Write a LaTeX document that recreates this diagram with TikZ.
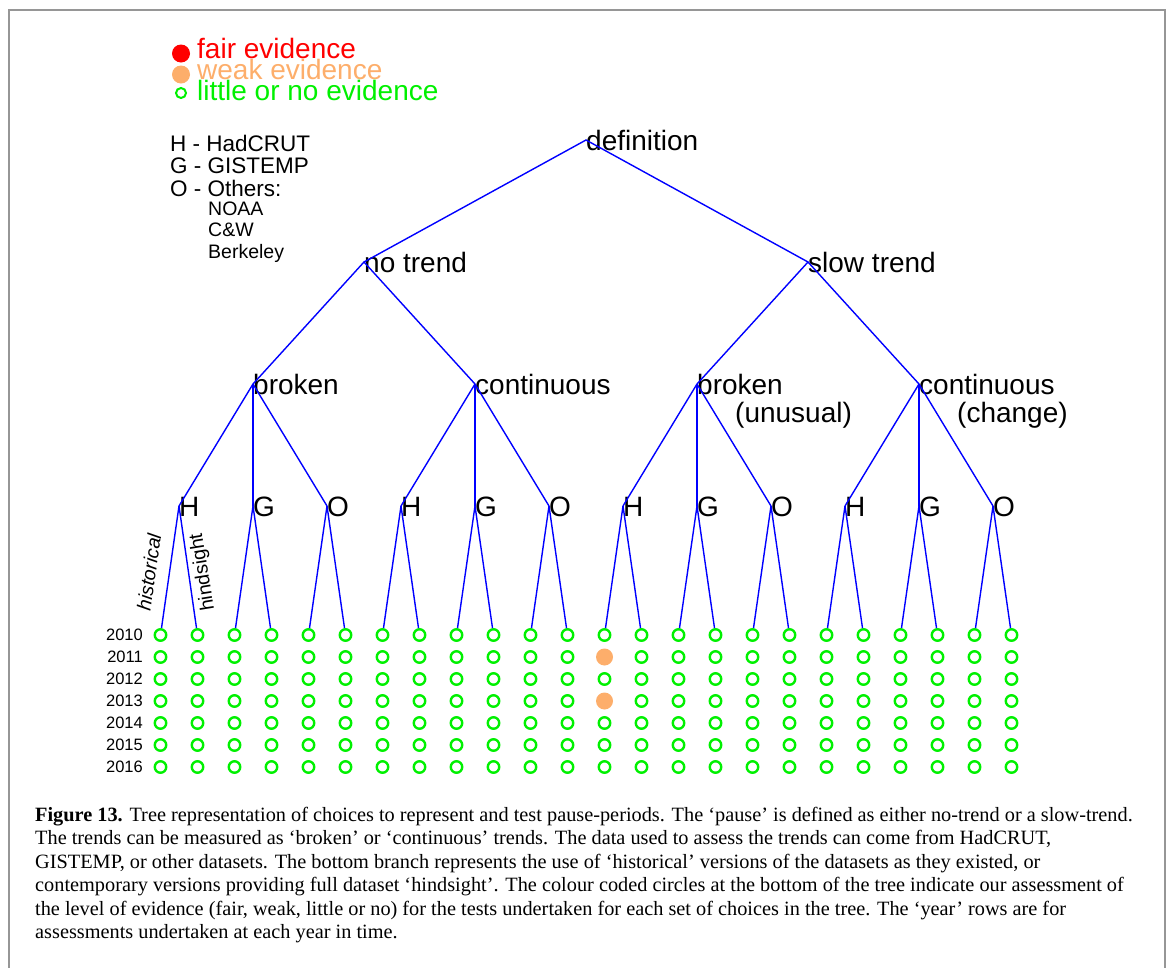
\documentclass[tikz,border=0pt]{standalone}
\usepackage{fontspec}
\setmainfont{Liberation Sans}
\newfontfamily\capfont{Liberation Serif}
\definecolor{treeblue}{RGB}{0,0,255}
\definecolor{evgreen}{RGB}{0,240,0}
\definecolor{evorange}{RGB}{253,174,107}
\definecolor{evred}{RGB}{255,0,0}
\definecolor{framegray}{RGB}{150,150,150}
\begin{document}
\begin{tikzpicture}[x=1pt,y=-1pt,
  branch/.style={draw=treeblue, line width=1.4pt},
  lab/.style={inner sep=0pt, anchor=base west, font=\fontsize{28}{28}\selectfont},
  keylab/.style={inner sep=0pt, anchor=base west, font=\fontsize{22.5}{22.5}\selectfont},
  sublab/.style={inner sep=0pt, anchor=base west, font=\fontsize{19.5}{19.5}\selectfont},
  yearlab/.style={inner sep=0pt, anchor=east, font=\fontsize{16.5}{16.5}\selectfont},
  verlab/.style={inner sep=0pt, font=\fontsize{19.5}{19.5}\selectfont},
  leafc/.style={circle, draw=evgreen, line width=2.4pt, minimum size=11.5pt, inner sep=0pt},
  weakc/.style={circle, fill=evorange, minimum size=17pt, inner sep=0pt},
  caplab/.style={inner sep=0pt, anchor=base west, font=\capfont\fontsize{20.3}{23.5}\selectfont}]
\useasboundingbox (0,0) rectangle (1169,967);
% frame
\draw[framegray, line width=2pt] (9,970) -- (9,10) -- (1165,10) -- (1165,970);

% legend
\node[circle, fill=evred, minimum size=18pt, inner sep=0pt] (lg-fair) at (181,53.5) {};
\node[circle, fill=evorange, minimum size=18pt, inner sep=0pt] (lg-weak) at (181,74.5) {};
\node[circle, draw=evgreen, line width=2pt, minimum size=10pt, inner sep=0pt] (lg-none) at (181,93) {};
\node[lab, text=evred] (t-fair) at (197,58) {fair evidence};
\node[lab, text=evorange] (t-weak) at (197,79) {weak evidence};
\node[lab, text=evgreen] (t-none) at (197,100) {little or no evidence};

\node[keylab] (k-h) at (170,151) {H - HadCRUT};
\node[keylab] (k-g) at (170,173.5) {G - GISTEMP};
\node[keylab] (k-o) at (170,196) {O - Others:};
\node[sublab] (k-noaa) at (208,215) {NOAA};
\node[sublab] (k-cw) at (208,236.5) {C\&W};
\node[sublab] (k-berk) at (208,258) {Berkeley};

% tree vertices
\coordinate (def) at (586,140);
\coordinate (nt) at (364,262);
\coordinate (st) at (808,262);
\coordinate (b1) at (253,384);
\coordinate (c1) at (475,384);
\coordinate (b2) at (697,384);
\coordinate (c2) at (919,384);
\foreach \m in {0,...,11} {\coordinate (d\m) at ({179+74*\m},506);}

% labels
\node[lab] (l-def) at ([yshift=-10pt]def) {definition};
\node[lab] (l-nt) at ([yshift=-10pt]nt) {no trend};
\node[lab] (l-st) at ([yshift=-10pt]st) {slow trend};
\node[lab] (l-b1) at ([yshift=-10pt]b1) {broken};
\node[lab] (l-c1) at ([yshift=-10pt]c1) {continuous};
\node[lab] (l-b2) at ([yshift=-10pt]b2) {broken};
\node[lab] (l-c2) at ([yshift=-10pt]c2) {continuous};
\node[lab] (l-b2b) at (735,422) {(unusual)};
\node[lab] (l-c2b) at (957,422) {(change)};
\foreach \m/\t in {0/H,1/G,2/O,3/H,4/G,5/O,6/H,7/G,8/O,9/H,10/G,11/O}
  {\node[lab] (l-d\m) at ([yshift=-10pt]d\m) {\t};}

% branches
\draw[branch] (nt) -- (def) -- (st);
\draw[branch] (b1) -- (nt) -- (c1);
\draw[branch] (b2) -- (st) -- (c2);
\draw[branch] (b1) -- (d0); \draw[branch] (b1) -- (d1); \draw[branch] (b1) -- (d2);
\draw[branch] (c1) -- (d3); \draw[branch] (c1) -- (d4); \draw[branch] (c1) -- (d5);
\draw[branch] (b2) -- (d6); \draw[branch] (b2) -- (d7); \draw[branch] (b2) -- (d8);
\draw[branch] (c2) -- (d9); \draw[branch] (c2) -- (d10); \draw[branch] (c2) -- (d11);

% leaves
\foreach \r in {0,...,6} {
  \node[yearlab] (y\r) at (143,{635+22*\r}) {201\r};
  \foreach \k in {0,...,23} {
    \ifnum\k=12
      \ifnum\r=1
        \node[weakc] (c-\k-\r) at ({160.5+37*\k},{635+22*\r}) {};
      \else\ifnum\r=3
        \node[weakc] (c-\k-\r) at ({160.5+37*\k},{635+22*\r}) {};
      \else
        \node[leafc] (c-\k-\r) at ({160.5+37*\k},{635+22*\r}) {};
      \fi\fi
    \else
      \node[leafc] (c-\k-\r) at ({160.5+37*\k},{635+22*\r}) {};
    \fi
  }
}
\foreach \m in {0,...,11} {
  \pgfmathtruncatemacro{\ka}{2*\m}
  \pgfmathtruncatemacro{\kb}{2*\m+1}
  \draw[branch] (d\m) -- (c-\ka-0);
  \draw[branch] (d\m) -- (c-\kb-0);
}

\node[verlab, rotate=81.8, font=\fontsize{19.5}{19.5}\selectfont\itshape] (hist) at (149,572) {historical};
\node[verlab, rotate=99.2] (hind) at (203,572) {hindsight};

% caption
\node[caplab] (cap1) at (35,821) {\textbf{Figure 13.} Tree representation of choices to represent and test pause-periods. The ‘pause’ is defined as either no-trend or a slow-trend.};
\node[caplab] (cap2) at (35,844.5) {The trends can be measured as ‘broken’ or ‘continuous’ trends. The data used to assess the trends can come from HadCRUT,};
\node[caplab] (cap3) at (35,868) {GISTEMP, or other datasets. The bottom branch represents the use of ‘historical’ versions of the datasets as they existed, or};
\node[caplab] (cap4) at (35,891.5) {contemporary versions providing full dataset ‘hindsight’. The colour coded circles at the bottom of the tree indicate our assessment of};
\node[caplab] (cap5) at (35,915) {the level of evidence (fair, weak, little or no) for the tests undertaken for each set of choices in the tree. The ‘year’ rows are for};
\node[caplab] (cap6) at (35,938.5) {assessments undertaken at each year in time.};
\end{tikzpicture}
\end{document}
